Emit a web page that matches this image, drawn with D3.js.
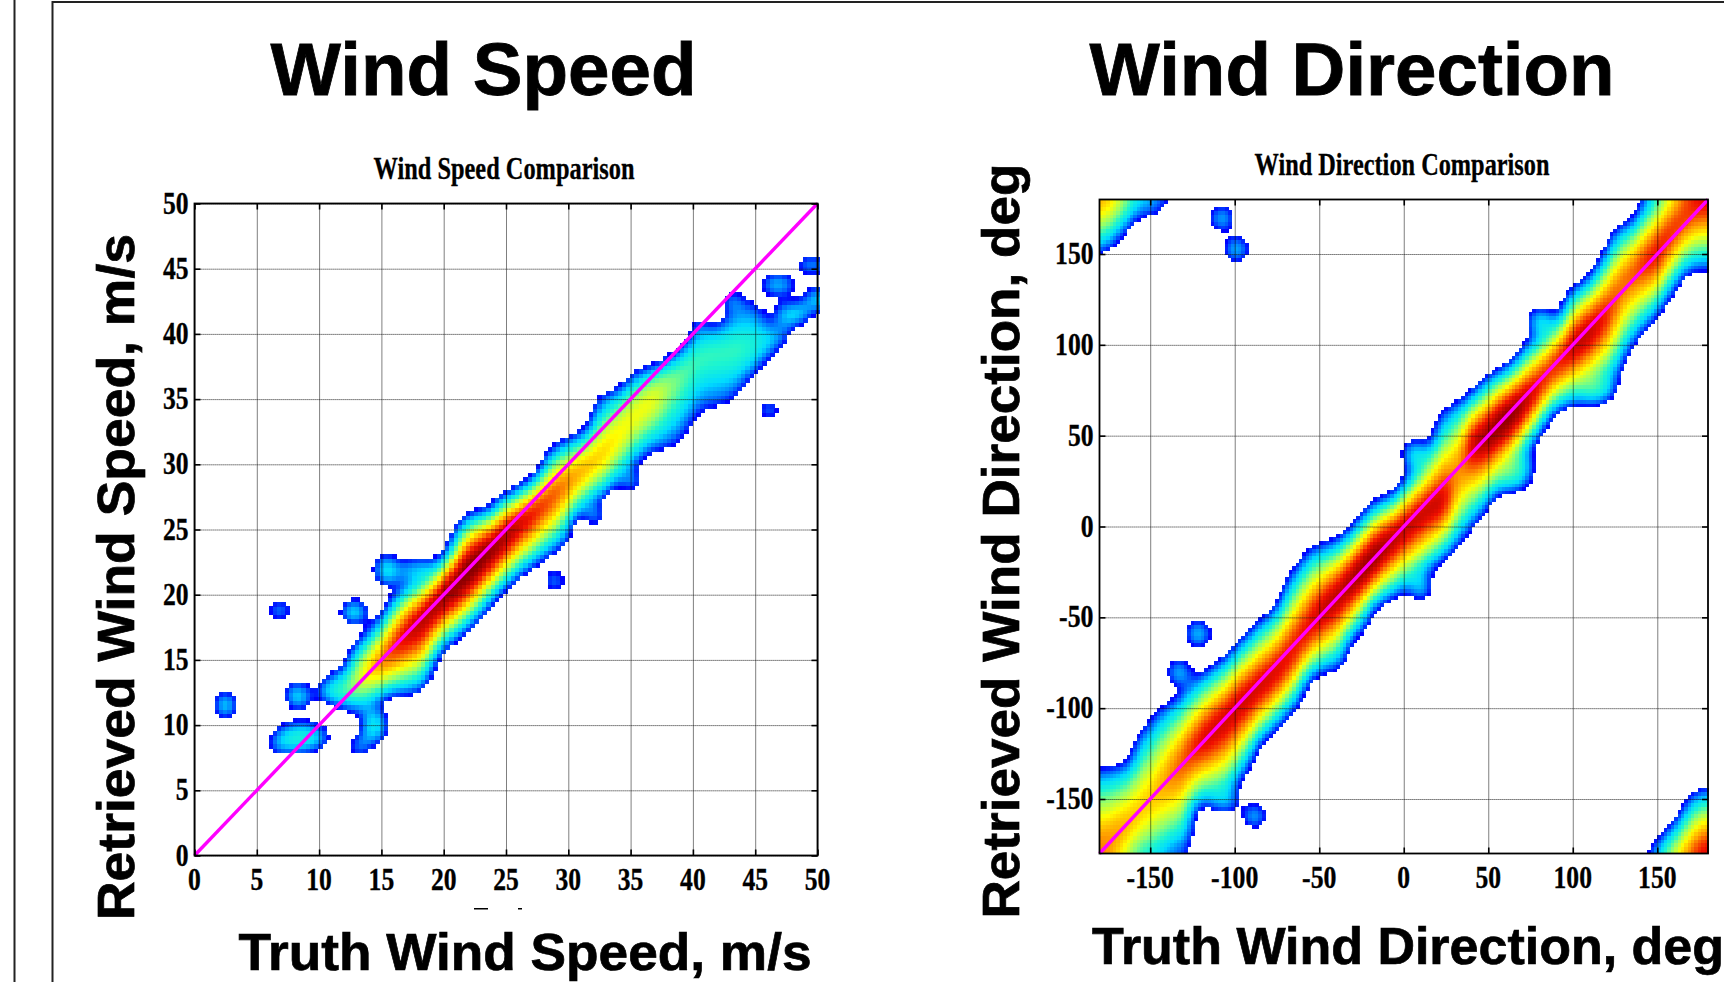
<!DOCTYPE html>
<html><head><meta charset="utf-8">
<script src="https://cdn.jsdelivr.net/npm/d3@7"></script>
<style>html,body{margin:0;background:#fff;overflow:hidden}svg{display:block}</style>
</head><body><svg id="c" width="1724" height="982"></svg>
<script>
// ---------- shared colour stops (jet-like) ----------
const levelStops=[0,0.09,0.2,0.3,0.42,0.56,0.68,0.82,0.93,1];
const levelColors=["#0000ff","#0070ff","#00dcff","#1cf5d0","#90ff70","#ffff00","#ffa000","#f01000","#a00000","#700000"];
// ---------- Wind speed: ridge ----------
const speedUpperX=[9.9,10.7,12.2,12.4,13.4,14.7,15.7,16.7,19,20.8,21,22.1,24,24.2,26.2,27.9,28.2,29.7,31.8,32.1,34,35.3,37,38.7,39.9,42.4,43.4,45.5,46,47.7];
const speedUpperY=[13.1,14,14.5,15.9,17,18,19.8,20.8,21.9,24,25.6,26.5,26.7,27.5,28.4,29.8,31,32.1,32.9,34.9,35.9,37.3,37.8,38.7,40.1,41.2,42.7,42.7,41,41];
const speedLowerX=[9.9,12.4,13.7,15.4,18.3,19.1,19.4,22.5,24.5,26.9,29.9,30.3,33,35.3,36.3,38.4,40,40.4,43.1,45.1,47.7];
const speedLowerY=[12.1,10.9,10.9,12.1,12.4,14.2,15.2,17.7,20,21.9,23.8,25.8,27.5,29.6,30.8,31,32.8,33.8,34.5,37,39.7];
const speedCenterX=[9.9,12,15,20,25,30,33,35,37.3,40.7,44,47.7];
const speedCenterY=[12.5,12.7,15,20,24.7,28.7,31,33.5,35.7,38.7,38.7,40];
const speedPeakX=[9.9,12,14,15,17,19,21,23,25,27,29,31,33,35,37,38,40,42,44,46,47.7];
const speedPeakY=[0.3,0.4,0.66,0.8,0.92,1,1.05,1.05,1,0.9,0.8,0.72,0.66,0.6,0.6,0.46,0.36,0.34,0.34,0.26,0.2];
// outlying patches: x, y, rx, ry, level
const speedPatches=[[6.8,18.85,1,.65,.3],[12.8,18.75,1.1,.85,.4],[28.9,21.1,.95,.65,.3],[46.1,34.2,.85,.65,.3],[32.1,26.1,.85,.65,.28],[35.1,28.7,.85,.6,.28],[15.4,21.9,1,1.2,.35],[18,21.9,2.1,.8,.25],[8.3,12.3,1,1.05,.35],[2.5,11.6,.7,1.05,.45],[8.5,9.1,2.4,1.05,.35],[7,8.4,1.2,.6,.25],[14.4,10,1,1.4,.35],[13.2,8.4,.9,.7,.25],[40.4,40.6,.6,.8,.25],[49.3,45.3,1,.45,.45],[49.8,42.7,.9,.8,.3],[46.8,43.8,1.5,.75,.3],[48,41.6,1.6,.7,.38],[43.2,42.6,1,.6,.25],[33.5,34.9,1.3,.6,.22]];
const speedFloor=8;
const speedTicks=[0,5,10,15,20,25,30,35,40,45,50];
// ---------- Wind direction: ridge ----------
const dirUpperX=[-180,-160,-159,-145.5,-135.8,-118.7,-107.8,-84.7,-72.5,-70,-59,-53,-43,-28.7,-19,-4.4,0.5,17.5,20,24.8,39.4,49,63.7,73.5,93,97.8,110,119.7,124.6,136.7,141.6,150,164.7,168,180];
const dirUpperY=[-132,-128,-115.6,-99,-94,-79,-72.7,-50,-41,-28.5,-14.6,-8.3,-8.3,1.8,14.4,19.4,27,47,62,67,73.7,83.8,91,102.8,116.7,131.8,138,153,166,170,180.5,188,203,214,218];
const dirLowerX=[-180,-167,-158,-145.5,-138,-127,-126,-106.6,-98,-92,-87,-72.5,-63,-58,-50.6,-36,-33.6,-24,-21,-2,10,27,39.4,49,78,88,102.7,124.6,134,153.8,163.5,171,180];
const dirLowerY=[-213,-202,-190,-190,-181.5,-180,-155,-154,-143,-134,-122,-109,-99,-86.6,-81.6,-79,-64,-59,-47.5,-37.4,-30,-16,-3.3,9.3,47,62,67.4,77.5,97.7,120,135.6,140.7,140.7];
const dirCenterX=[-180,-170,-150,-130,-120,-110,-100,-90,-80,-70,-60,-50,-40,-30,-20,-10,0,10,20,27,31,35,38,50,60,70,80,90,100,110,120,130,140,150,160,170,180];
const dirCenterY=[-178,-170,-150,-128,-118,-110,-100,-92,-84,-75,-62,-48,-39,-29,-19,-9,0,7,13,16,26,38,46,50,60,67,78,90,100,108,118,135,144,150,165,175,183];
const dirPeakX=dirCenterX;
const dirPeakY=[0.74,0.72,0.64,0.8,0.9,0.91,0.92,0.92,0.91,0.9,0.88,0.93,0.95,1,1.05,0.98,0.95,0.92,0.92,0.9,0.66,0.76,0.93,0.98,1.05,1,0.9,0.87,0.95,0.95,0.87,0.76,0.82,0.9,0.85,0.82,0.9];
const dirPatches=[[-107.8,170,7,6,.35],[-99,152.8,7,6.5,.35],[-121.7,-58.8,7,7,.35],[-133,-80,6.5,7,.35],[-88.5,-159,6.5,6.5,.35],[10,-33,6,7,.35],[6.5,39.6,7.5,8,.35],[81,113,8,7,.35],[112,77,14,9,.4],[-106,-150,8,7,.3],[62,33,15,14,.4]];
const dirTicks=[-150,-100,-50,0,50,100,150];

// ---------- helpers ----------
const svg=d3.select("#c");
const colorOf=d3.scaleLinear().domain(levelStops).range(levelColors).clamp(true);
const ramp=(xs,ys)=>d3.scaleLinear().domain(xs).range(ys).clamp(true);
const OUT=-0.14;
const bandLevel=(y,c,hi,lo,p)=>{
  const d=y>=c?(y-c)/Math.max(hi-c,.01):(c-y)/Math.max(c-lo,.01);
  return d>=1?OUT:p*(1-Math.pow(d,1.4));
};
const patchLevel=(x,y,P)=>{
  let best=OUT;
  for(const [px,py,rx,ry,l] of P){
    const d=Math.hypot((x-px)/rx,(y-py)/ry);
    if(d<1) best=Math.max(best,l*(1-d*d*.7)+.02);
  }
  return best;
};
function drawPanel(o){
  const x=d3.scaleLinear().domain(o.dom).range([o.x0,o.x1]);
  const y=d3.scaleLinear().domain(o.dom).range([o.y1,o.y0]);
  const g=svg.append("g");
  const xs=d3.range(o.dom[0]+o.step/2,o.dom[1],o.step), ys=xs;
  const W=xs.length,H=ys.length;
  const grid=new Float64Array(W*H);
  ys.forEach((cy,j)=>xs.forEach((cx,i)=>{grid[j*W+i]=o.field(cx,cy);}));
  d3.blur2({data:grid,width:W,height:H},o.blur);
  const cells=[];
  ys.forEach((cy,j)=>xs.forEach((cx,i)=>{const v=grid[j*W+i]; if(v>0&&o.keep(cx,cy)) cells.push({cx,cy,v});}));
  g.append("g").selectAll("rect").data(cells).join("rect")
    .attr("x",d=>x(d.cx-o.step/2)).attr("y",d=>y(d.cy+o.step/2))
    .attr("width",x(o.step)-x(0)+.6).attr("height",y(0)-y(o.step)+.6)
    .attr("fill",d=>colorOf(d.v)).attr("shape-rendering","crispEdges");
  const h=o.y1-o.y0,w=o.x1-o.x0;
  // grid
  const gx=g.append("g").attr("transform",`translate(0,${o.y1})`)
    .call(d3.axisBottom(x).tickValues(o.ticks).tickSize(-h).tickFormat(""));
  gx.select(".domain").remove();
  gx.selectAll("line").attr("stroke","#000").attr("stroke-opacity",.5).attr("stroke-width",1);
  const gy=g.append("g").attr("transform",`translate(${o.x0},0)`)
    .call(d3.axisLeft(y).tickValues(o.ticks).tickSize(-w).tickFormat(""));
  gy.select(".domain").remove();
  gy.selectAll("line").attr("stroke","#111").attr("stroke-width",.8).attr("stroke-dasharray","1.2,.8");
  // diagonal
  g.append("line").attr("x1",x(o.dom[0])).attr("y1",y(o.dom[0])).attr("x2",x(o.dom[1])).attr("y2",y(o.dom[1]))
    .attr("stroke","#ff00ff").attr("stroke-width",3.4);
  // frame
  g.append("rect").attr("x",o.x0).attr("y",o.y0).attr("width",w).attr("height",h)
    .attr("fill","none").attr("stroke","#000").attr("stroke-width",1.8);
  // inner ticks on all sides
  const mk=(axis,tx)=>{const a=g.append("g").attr("transform",tx).call(axis.tickValues(o.ticks).tickSize(-6).tickFormat(""));
    a.select(".domain").remove();a.selectAll("line").attr("stroke","#000").attr("stroke-width",1.6);};
  mk(d3.axisBottom(x),`translate(0,${o.y1})`);mk(d3.axisTop(x),`translate(0,${o.y0})`);
  mk(d3.axisLeft(y),`translate(${o.x0},0)`);mk(d3.axisRight(y),`translate(${o.x1},0)`);
  // tick labels
  const lab=(sel)=>sel.attr("font-family","'Liberation Serif'").attr("font-weight","bold").attr("font-size",32).attr("fill","#000")
    .attr("stroke","#000").attr("stroke-width",.35)
    .attr("textLength",d=>String(d).length*12.8-(String(d).startsWith("-")?4:0)).attr("lengthAdjust","spacingAndGlyphs");
  g.append("g").selectAll("text").data(o.ticks).join("text").attr("x",d=>x(d)).attr("y",o.xLabelY).attr("text-anchor","middle").text(d=>d).call(lab);
  g.append("g").selectAll("text").data(o.ticks).join("text").attr("x",o.x0-6).attr("y",d=>y(d)+o.yLabelDy).attr("text-anchor","end").text(d=>d).call(lab);
  // headings
  const T=(t,xp,yp,size,len,fam,rot,sw)=>svg.append("text").text(t).attr("font-family",fam).attr("font-weight","bold")
    .attr("font-size",size).attr("text-anchor","middle").attr("textLength",len).attr("lengthAdjust","spacingAndGlyphs")
    .attr("stroke","#000").attr("stroke-width",sw)
    .attr("transform",`translate(${xp},${yp})${rot?" rotate(-90)":""}`);
  const A="'Liberation Sans'",S="'Liberation Serif'";
  T(o.title,o.titleX,o.titleY,74,o.titleLen,A,false,.8);
  T(o.sub,o.subX,o.subY,31,o.subLen,S,false,.3);
  T(o.xlab,o.xlabX,o.xlabY,52,o.xlabLen,A,false,.7);
  T(o.ylab,o.ylabX,o.ylabY,52,o.ylabLen,A,true,.7);
}
// frames around the slide
svg.append("line").attr("x1",14.5).attr("x2",14.5).attr("y1",0).attr("y2",982).attr("stroke","#222").attr("stroke-width",2);
svg.append("rect").attr("x",52.5).attr("y",2).attr("width",1700).attr("height",1000).attr("fill","none").attr("stroke","#222").attr("stroke-width",2);

const su=ramp(speedUpperX,speedUpperY),sl=ramp(speedLowerX,speedLowerY),sc=ramp(speedCenterX,speedCenterY),sp=ramp(speedPeakX,speedPeakY);
drawPanel({dom:[0,50],x0:194.5,x1:817.5,y0:203.5,y1:855.5,step:.33,blur:1.2,ticks:speedTicks,xLabelY:890,yLabelDy:10,
  keep:(x,y)=>y>=speedFloor,
  field:(x,y)=>{
    let v=patchLevel(x,y,speedPatches);
    if(x>=speedCenterX[0]&&x<=47.7) v=Math.max(v,bandLevel(y,sc(x),su(x),sl(x),sp(x)));
    return v;},
  title:"Wind Speed",titleX:483.5,titleY:95,titleLen:426,
  sub:"Wind Speed Comparison",subX:504,subY:179,subLen:261,
  xlab:"Truth Wind Speed, m/s",xlabX:525,xlabY:970,xlabLen:573,
  ylab:"Retrieved Wind Speed, m/s",ylabX:134,ylabY:577,ylabLen:686});
const du=ramp(dirUpperX,dirUpperY),dl=ramp(dirLowerX,dirLowerY),dc=ramp(dirCenterX,dirCenterY),dp=ramp(dirPeakX,dirPeakY);
drawPanel({dom:[-180,180],x0:1099.5,x1:1708,y0:199.5,y1:853.5,step:2,blur:1.6,ticks:dirTicks,xLabelY:888,yLabelDy:10,
  keep:()=>true,
  field:(x,y)=>{ let v=patchLevel(x,y,dirPatches);
    for(const s of [0,360,-360]) v=Math.max(v,bandLevel(y+s,dc(x),du(x),dl(x),dp(x)));
    return v;},
  title:"Wind Direction",titleX:1352,titleY:95,titleLen:525,
  sub:"Wind Direction Comparison",subX:1402,subY:175,subLen:295,
  xlab:"Truth Wind Direction, deg",xlabX:1408,xlabY:964,xlabLen:632,
  ylab:"Retrieved Wind Direction, deg",ylabX:1019,ylabY:541,ylabLen:755});
// clipped text remnants under the left x axis
const crumbX=[474,518];const crumbW=[14,4];
svg.append("g").selectAll("rect").data(crumbX).join("rect").attr("x",d=>d).attr("y",908).attr("width",(d,i)=>crumbW[i]).attr("height",1.5).attr("fill","#000");
</script></body></html>
